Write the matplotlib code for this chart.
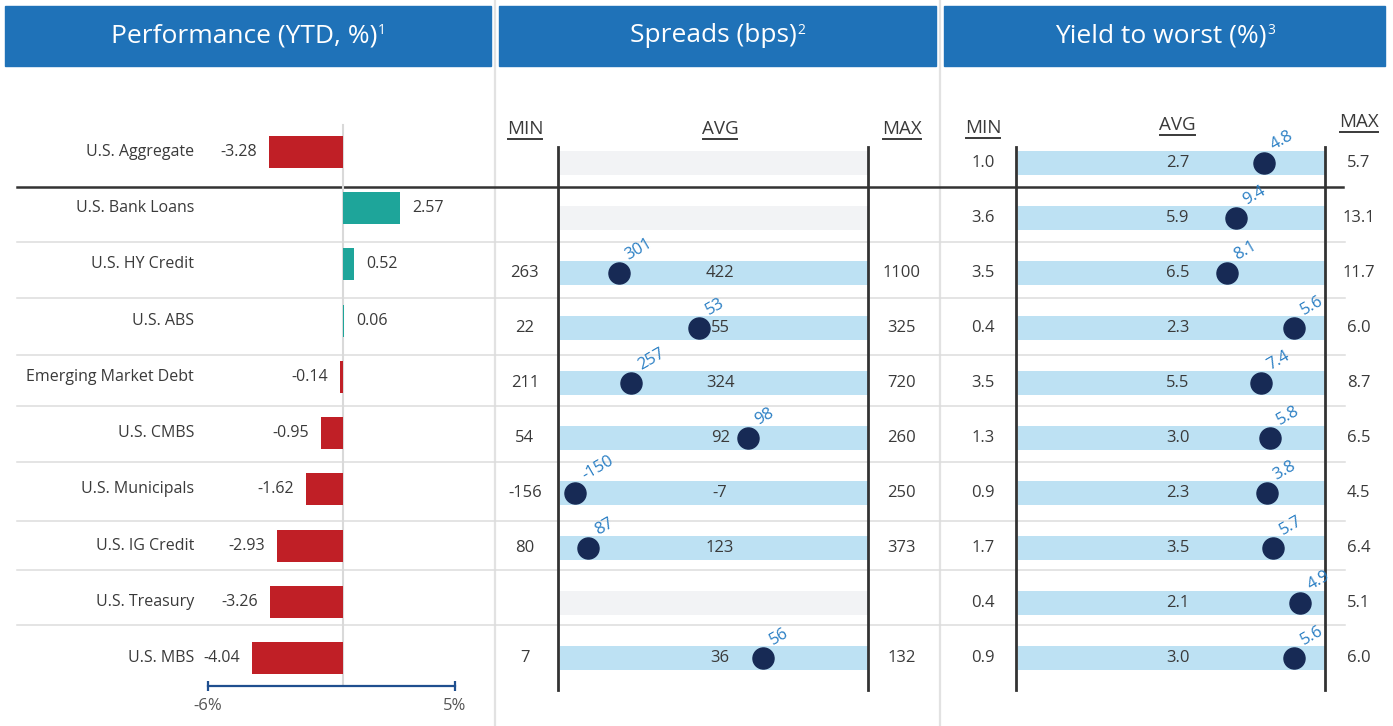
import matplotlib
matplotlib.use("Agg")
import matplotlib.pyplot as plt
from matplotlib.patches import Rectangle

plt.rcParams["font.family"] = ["Open Sans", "DejaVu Sans"]

# ---- data -------------------------------------------------------------
categories = ["U.S. Aggregate", "U.S. Bank Loans", "U.S. HY Credit", "U.S. ABS",
              "Emerging Market Debt", "U.S. CMBS", "U.S. Municipals",
              "U.S. IG Credit", "U.S. Treasury", "U.S. MBS"]
perf_ytd = [-3.28, 2.57, 0.52, 0.06, -0.14, -0.95, -1.62, -2.93, -3.26, -4.04]

spread_min = [None, None, 263, 22, 211, 54, -156, 80, None, 7]
spread_avg = [None, None, 422, 55, 324, 92, -7, 123, None, 36]
spread_max = [None, None, 1100, 325, 720, 260, 250, 373, None, 132]
spread_now = [None, None, 301, 53, 257, 98, -150, 87, None, 56]
# where the current value sits inside the min-max band
spread_pct = [None, None, 0.19, 0.45, 0.23, 0.61, 0.05, 0.09, None, 0.66]

yield_min = [1.0, 3.6, 3.5, 0.4, 3.5, 1.3, 0.9, 1.7, 0.4, 0.9]
yield_avg = [2.7, 5.9, 6.5, 2.3, 5.5, 3.0, 2.3, 3.5, 2.1, 3.0]
yield_max = [5.7, 13.1, 11.7, 6.0, 8.7, 6.5, 4.5, 6.4, 5.1, 6.0]
yield_now = [4.8, 9.4, 8.1, 5.6, 7.4, 5.8, 3.8, 5.7, 4.9, 5.6]
yield_pct = [0.80, 0.71, 0.68, 0.90, 0.79, 0.82, 0.81, 0.83, 0.92, 0.90]

headers = ["Performance (YTD, %)", "Spreads (bps)", "Yield to worst (%)"]
footnotes = ["1", "2", "3"]
perf_ticks = [-6, 5]

# ---- style ------------------------------------------------------------
W, H = 1393, 726
HEAD = "#1f72b8"
RED = "#c01f26"
TEAL = "#1ea59a"
BAND = "#bde1f3"
EMPTY = "#f2f3f5"
DOT = "#172a55"
LBLUE = "#2a7fc4"
TXT = "#3a3a3a"
GRID = "#dcdcdc"

fig = plt.figure(figsize=(W / 100, H / 100), dpi=100)


def rect(x0, y0, x1, y1):
    return [x0 / W, 1 - y1 / H, (x1 - x0) / W, (y1 - y0) / H]


# background layer in pixel coordinates
bg = fig.add_axes([0, 0, 1, 1], zorder=0)
bg.set_xlim(0, W)
bg.set_ylim(H, 0)
bg.axis("off")

titles = []
for x0, x1, title in zip([5, 499, 944], [491, 936, 1385], headers):
    bg.add_patch(Rectangle((x0, 6), x1 - x0, 60, color=HEAD))
    titles.append(bg.text((x0 + x1) / 2 - 4, 36, title, color="white", fontsize=19,
                          ha="center", va="center"))

for x in [494.5, 940]:
    bg.plot([x, x], [0, H], color="#e2e2e2", lw=1.6)

for y in [242, 298, 355, 406, 462, 521, 570, 625]:
    bg.plot([17, 1345], [y, y], color=GRID, lw=1.1)
bg.plot([17, 1343], [187, 187], color="#333333", lw=1.8)

rows = list(range(len(categories)))

# ---- performance panel -----------------------------------------------
# rows 56.2 px apart, first row centred at y=152 px
ax0 = fig.add_axes(rect(208, 123.9, 455, 686.1), zorder=2)
ax0.set_xlim(-6, 5)
ax0.set_ylim(9.5, -0.5)
ax0.axis("off")
ax0.plot([0, 0], [-0.48, 9.48], color="#d9d9d9", lw=1.5, clip_on=False, zorder=0)
ax0.barh(rows, perf_ytd, height=0.57,
         color=[RED if v < 0 else TEAL for v in perf_ytd], zorder=2)
for i, (cat, v) in enumerate(zip(categories, perf_ytd)):
    ax0.annotate(cat, (-6, i), xytext=(-14, 0), textcoords="offset pixels",
                 ha="right", va="center", fontsize=11.5, color=TXT)
    if v < 0:
        ax0.annotate(f"{v:.2f}", (v, i), xytext=(-12, 0), textcoords="offset pixels",
                     ha="right", va="center", fontsize=11.5, color=TXT)
    else:
        ax0.annotate(f"{v:.2f}", (v, i), xytext=(12, 0), textcoords="offset pixels",
                     ha="left", va="center", fontsize=11.5, color=TXT)
ax0.plot(perf_ticks, [9.5, 9.5], color="#1f4f8f", lw=1.6, marker="|",
         markersize=7, markeredgewidth=1.6, clip_on=False)
for t in perf_ticks:
    ax0.text(t, 9.86, f"{t}%", ha="center", va="center", fontsize=12, color="#555555")


# ---- range panels ----------------------------------------------------
def range_panel(x0, x1, mins, avgs, maxs, nows, pcts, fmt, head_y):
    # rows 55 px apart, first row centred at y=163 px
    ax = fig.add_axes(rect(x0, 135.5, x1, 685.5), zorder=2)
    ax.set_xlim(0, 1)
    ax.set_ylim(9.5, -0.5)
    ax.axis("off")
    for i in rows:
        if nows[i] is None:
            ax.barh(i, 1, left=0, height=0.43, color=EMPTY, zorder=1)
            continue
        ax.barh(i, 1, left=0, height=0.43, color=BAND, zorder=1)
        ax.text(-0.114, i, fmt.format(mins[i]), ha="center", va="center",
                fontsize=12, color=TXT)
        ax.text(1.11, i, fmt.format(maxs[i]), ha="center", va="center",
                fontsize=12, color=TXT)
        ax.text(0.52, i, fmt.format(avgs[i]), ha="center", va="center",
                fontsize=12, color=TXT, zorder=3)
        ax.scatter(pcts[i], i, s=230, color=DOT, zorder=4, clip_on=False)
        ax.annotate(fmt.format(nows[i]), (pcts[i], i), xytext=(10, 13),
                    textcoords="offset pixels", rotation=30, rotation_mode="anchor",
                    ha="left", va="baseline", fontsize=12, color=LBLUE, zorder=5)
    for x in [-0.006, 1.0]:
        ax.plot([x, x], [-0.3, 9.58], color="#333333", lw=2, clip_on=False, zorder=3)
    heads = []
    for x, lab, hy in zip([-0.114, 0.52, 1.11], ["MIN", "AVG", "MAX"], head_y):
        heads.append(ax.text(x, hy, lab, ha="center", va="center",
                             fontsize=13.5, color=TXT))
    return heads


heads = []
heads += range_panel(560, 868, spread_min, spread_avg, spread_max,
                     spread_now, spread_pct, "{:d}", [-0.62, -0.62, -0.62])
heads += range_panel(1018, 1325, yield_min, yield_avg, yield_max,
                     yield_now, yield_pct, "{:.1f}", [-0.64, -0.69, -0.75])

# underline the MIN / AVG / MAX headings, add footnote marks to titles
fig.canvas.draw()
r = fig.canvas.get_renderer()
for t in heads:
    bb = t.get_window_extent(r)
    y = H - bb.y0 + 1
    bg.plot([bb.x0 + 1, bb.x1 - 1], [y, y], color=TXT, lw=1.4)
for t, note in zip(titles, footnotes):
    bb = t.get_window_extent(r)
    bg.text(bb.x1 + 1, H - bb.y1 - 1, note, color="white", fontsize=10,
            ha="left", va="top")

fig.savefig("out.png", dpi=100)
